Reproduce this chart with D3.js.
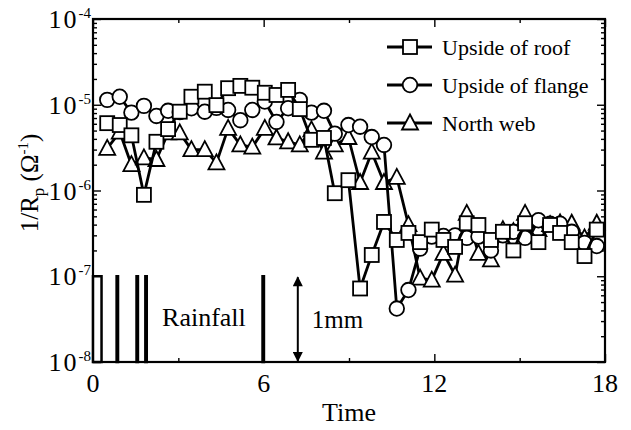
<!DOCTYPE html>
<html>
<head>
<meta charset="utf-8">
<script src="https://cdn.jsdelivr.net/npm/d3@7"></script>
<style>
  body { margin: 0; background: #fff; }
  text { font-family: "Liberation Serif", "Times New Roman", serif; fill: #000; }
</style>
</head>
<body>
<div id="chart"></div>
<script>
// Data
var time = [0.50, 0.94, 1.35, 1.79, 2.23, 2.64, 3.05, 3.46, 3.93, 4.34, 4.75, 5.18, 5.60, 6.04,
  6.45, 6.86, 7.27, 7.68, 8.12, 8.50, 8.98, 9.39, 9.80, 10.23, 10.68, 11.09, 11.50, 11.91,
  12.32, 12.73, 13.14, 13.55, 13.99, 14.41, 14.78, 15.19, 15.66, 16.07, 16.42, 16.83, 17.28, 17.71];

var roof = [6.1e-6, 5.8e-6, 4.4e-6, 8.9e-7, 3.7e-6, 5.2e-6, 8.3e-6, 1.24e-5, 1.42e-5, 9.9e-6,
  1.56e-5, 1.66e-5, 1.58e-5, 1.38e-5, 1.30e-5, 1.49e-5, 8.9e-6, 3.9e-6, 4.1e-6, 9.3e-7,
  1.32e-6, 7.2e-8, 1.77e-7, 4.3e-7, 2.65e-7, 3.2e-7, 2.5e-7, 3.5e-7, 2.65e-7, 2.2e-7,
  4.15e-7, 3.96e-7, 2.65e-7, 3.3e-7, 2.0e-7, 4.15e-7, 2.5e-7, 3.96e-7, 3.2e-7, 2.5e-7,
  1.72e-7, 3.5e-7];

var flange = [1.14e-5, 1.24e-5, 8.1e-6, 9.7e-6, 7.4e-6, 8.5e-6, 8.2e-6, 9.1e-6, 8.3e-6, 9.2e-6,
  8.7e-6, 6.6e-6, 8.7e-6, 1.09e-5, 6.3e-6, 9.1e-6, 1.14e-5, 8.1e-6, 8.5e-6, 4.6e-6,
  5.8e-6, 5.55e-6, 4.2e-6, 3.4e-6, 4.2e-8, 6.9e-8, 2.1e-7, 2.9e-7, 2.95e-7, 3.0e-7,
  2.8e-7, 2.9e-7, 2.0e-7, 3.0e-7, 3.3e-7, 2.8e-7, 4.5e-7, 4.1e-7, 4.1e-7, 3.3e-7,
  2.45e-7, 2.25e-7];

var northWeb = [3.1e-6, 4.8e-6, 2.0e-6, 2.4e-6, 2.3e-6, 4.7e-6, 4.7e-6, 3.0e-6, 3.0e-6, 2.1e-6,
  5.3e-6, 3.4e-6, 3.2e-6, 5.3e-6, 4.1e-6, 3.7e-6, 3.4e-6, 5.1e-6, 2.8e-6, 3.4e-6,
  4.15e-6, 1.24e-6, 2.8e-6, 1.24e-6, 1.42e-6, 4.0e-7, 9.5e-8, 9.0e-8, 1.85e-7, 1.03e-7,
  5.4e-7, 1.85e-7, 1.55e-7, 3.5e-7, 3.3e-7, 5.4e-7, 3.5e-7, 4.0e-7, 4.2e-7, 4.15e-7,
  2.8e-7, 4.15e-7];

// rainfall events (start, end in time units, amount in mm)
var rainStart = [0.0, 0.83, 1.53, 1.84, 5.96];
var rainEnd = [0.30, 0.88, 1.58, 1.89, 6.01];
var rainMm = [1, 1, 1, 1, 1];

var xTicks = [0, 6, 12, 18];
var xMinor = [3, 9, 15];
var yTicks = [1e-8, 1e-7, 1e-6, 1e-5, 1e-4];
var yExp = ["-8", "-7", "-6", "-5", "-4"];

var seriesNames = ["Upside of roof", "Upside of flange", "North web"];

var svgWidth = 631;
var svgHeight = 430;
var margin = { top: 19, right: 26, bottom: 68, left: 93 };
var width = svgWidth - margin.left - margin.right;
var height = svgHeight - margin.top - margin.bottom;

var svg = d3.select("#chart")
  .append("svg")
  .attr("width", svgWidth)
  .attr("height", svgHeight);

var chartGroup = svg.append("g")
  .attr("transform", `translate(${margin.left}, ${margin.top})`);

var xScale = d3.scaleLinear().domain([0, 18]).range([0, width]);
var yScale = d3.scaleLog().domain([1e-8, 1e-4]).range([height, 0]);
var rainScale = d3.scaleLinear().domain([0, 1]).range([height, yScale(1e-7)]);

// minor log ticks 2..9 per decade
var yMinor = [];
yTicks.slice(0, 4).forEach(d => {
  for (var k = 2; k <= 9; k++) yMinor.push(d * k);
});

// axes, ticks pointing inward
function styleAxis(g) {
  g.select(".domain").remove();
  g.selectAll("line").attr("stroke", "#000").attr("stroke-width", 1.4);
}
chartGroup.append("g").attr("transform", `translate(0, ${height})`)
  .call(d3.axisBottom(xScale).tickValues(xTicks).tickSize(-8).tickFormat(""))
  .call(styleAxis);
chartGroup.append("g").attr("transform", `translate(0, ${height})`)
  .call(d3.axisBottom(xScale).tickValues(xMinor).tickSize(-4).tickFormat(""))
  .call(styleAxis);
chartGroup.append("g")
  .call(d3.axisTop(xScale).tickValues(xTicks).tickSize(-8).tickFormat(""))
  .call(styleAxis);
chartGroup.append("g")
  .call(d3.axisTop(xScale).tickValues(xMinor).tickSize(-4).tickFormat(""))
  .call(styleAxis);
chartGroup.append("g")
  .call(d3.axisLeft(yScale).tickValues(yTicks).tickSize(-8).tickFormat(""))
  .call(styleAxis);
chartGroup.append("g")
  .call(d3.axisLeft(yScale).tickValues(yMinor).tickSize(-4).tickFormat(""))
  .call(styleAxis);
chartGroup.append("g").attr("transform", `translate(${width}, 0)`)
  .call(d3.axisRight(yScale).tickValues(yTicks).tickSize(-8).tickFormat(""))
  .call(styleAxis);
chartGroup.append("g").attr("transform", `translate(${width}, 0)`)
  .call(d3.axisRight(yScale).tickValues(yMinor).tickSize(-4).tickFormat(""))
  .call(styleAxis);

// frame
chartGroup.append("rect")
  .attr("width", width)
  .attr("height", height)
  .attr("fill", "none")
  .attr("stroke", "#000")
  .attr("stroke-width", 2.2);

// tick labels
chartGroup.selectAll(".xlab")
  .data(xTicks)
  .enter()
  .append("text")
  .attr("x", d => xScale(d))
  .attr("y", height + 30)
  .attr("text-anchor", "middle")
  .style("font-size", "26px")
  .text(d => d);

var ylab = chartGroup.selectAll(".ylab")
  .data(yTicks)
  .enter()
  .append("text")
  .attr("x", -2)
  .attr("y", d => yScale(d) + 9)
  .attr("text-anchor", "end")
  .style("font-size", "26px");
ylab.append("tspan").style("letter-spacing", "2px").text("10");
ylab.append("tspan")
  .attr("dy", -10)
  .style("font-size", "15px")
  .text((d, i) => yExp[i]);

// axis titles
chartGroup.append("text")
  .attr("x", width / 2)
  .attr("y", height + 59)
  .attr("text-anchor", "middle")
  .style("font-size", "26px")
  .text("Time");

var ytitle = svg.append("text")
  .attr("transform", "translate(38, 183) rotate(-90)")
  .attr("text-anchor", "middle")
  .style("font-size", "25px");
ytitle.append("tspan").text("1/R");
ytitle.append("tspan").attr("dy", 6).style("font-size", "17px").text("p");
ytitle.append("tspan").attr("dy", -6).text(" (Ω");
ytitle.append("tspan").attr("dy", -10).style("font-size", "15px").text("-1");
ytitle.append("tspan").attr("dy", 10).text(")");

// rainfall bars
chartGroup.selectAll(".rain")
  .data(rainMm)
  .enter()
  .append("rect")
  .attr("x", (d, i) => xScale(rainStart[i]))
  .attr("y", d => rainScale(d))
  .attr("width", (d, i) => xScale(rainEnd[i]) - xScale(rainStart[i]))
  .attr("height", d => height - rainScale(d))
  .attr("fill", "#fff")
  .attr("stroke", "#000")
  .attr("stroke-width", 2.5);

chartGroup.append("text")
  .attr("x", xScale(3.9))
  .attr("y", yScale(1e-7) + 50)
  .attr("text-anchor", "middle")
  .style("font-size", "26px")
  .text("Rainfall");

// 1mm scale arrow
var defs = svg.append("defs");
defs.append("marker")
  .attr("id", "arr")
  .attr("viewBox", "0 0 10 10")
  .attr("refX", 9)
  .attr("refY", 5)
  .attr("markerWidth", 14)
  .attr("markerHeight", 10)
  .attr("markerUnits", "userSpaceOnUse")
  .attr("orient", "auto-start-reverse")
  .append("path")
  .attr("d", "M0,0 L10,5 L0,10 z")
  .attr("fill", "#000");

chartGroup.append("line")
  .attr("x1", xScale(7.2))
  .attr("x2", xScale(7.2))
  .attr("y1", rainScale(1) + 1)
  .attr("y2", rainScale(0) - 1)
  .attr("stroke", "#000")
  .attr("stroke-width", 2)
  .attr("marker-start", "url(#arr)")
  .attr("marker-end", "url(#arr)");

chartGroup.append("text")
  .attr("x", xScale(7.2) + 14)
  .attr("y", rainScale(0.4))
  .style("font-size", "25px")
  .text("1mm");

// series
var lineGen = d3.line()
  .x(d => xScale(d[0]))
  .y(d => yScale(d[1]));

function drawMarker(g, kind) {
  if (kind === "square") {
    g.append("rect").attr("x", -7).attr("y", -7).attr("width", 14).attr("height", 14);
  } else if (kind === "circle") {
    g.append("circle").attr("r", 7.3);
  } else {
    g.append("path").attr("d", "M0,-8.5 L8,6.5 L-8,6.5 Z");
  }
  g.selectAll("rect, circle, path")
    .attr("fill", "#fff")
    .attr("stroke", "#000")
    .attr("stroke-width", 1.8);
}

var series = [
  { name: seriesNames[2], values: northWeb, kind: "triangle" },
  { name: seriesNames[1], values: flange, kind: "circle" },
  { name: seriesNames[0], values: roof, kind: "square" }
];

series.forEach(s => {
  var pts = time.map((t, i) => [t, s.values[i]]);
  chartGroup.append("path")
    .attr("d", lineGen(pts))
    .attr("fill", "none")
    .attr("stroke", "#000")
    .attr("stroke-width", 2.8)
    .attr("stroke-linejoin", "round");
  chartGroup.selectAll(".m-" + s.kind)
    .data(pts)
    .enter()
    .append("g")
    .attr("transform", d => `translate(${xScale(d[0])}, ${yScale(d[1])})`)
    .each(function() { drawMarker(d3.select(this), s.kind); });
});

// legend
var legendKinds = ["square", "circle", "triangle"];
var legend = svg.append("g").attr("transform", "translate(387, 47)");
seriesNames.forEach((name, i) => {
  var row = legend.append("g").attr("transform", `translate(0, ${i * 38})`);
  row.append("line")
    .attr("x1", 0).attr("x2", 45)
    .attr("stroke", "#000").attr("stroke-width", 2.8);
  var m = row.append("g").attr("transform", "translate(23, 0)");
  drawMarker(m, legendKinds[i]);
  row.append("text")
    .attr("x", 55)
    .attr("y", 8)
    .style("font-size", "22px")
    .text(name);
});
</script>
</body>
</html>
